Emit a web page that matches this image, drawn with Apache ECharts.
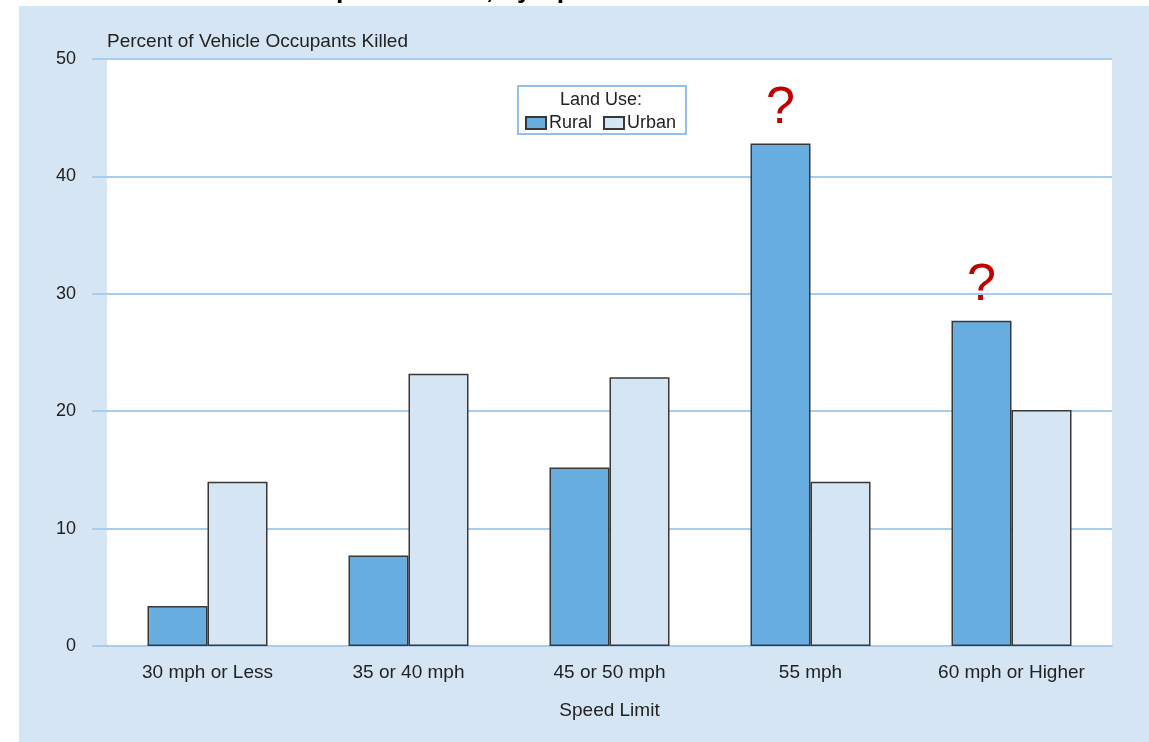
<!DOCTYPE html>
<html>
<head>
<meta charset="utf-8">
<script src="https://cdn.jsdelivr.net/npm/echarts@6/dist/echarts.min.js"></script>
<style>
html,body{margin:0;padding:0;background:#fff;}
#c{width:1149px;height:742px;}
</style>
</head>
<body>
<div id="c"></div>
<script>
var categories = ['30 mph or Less', '35 or 40 mph', '45 or 50 mph', '55 mph', '60 mph or Higher'];
var rural = [3.4, 7.7, 15.2, 42.8, 27.7];
var urban = [14.0, 23.2, 22.9, 14.0, 20.1];
var ruralQuestioned = [false, false, false, true, true];
var yTicks = [0, 10, 20, 30, 40, 50];

var FONT = '"Liberation Sans", Arial, sans-serif';
var chart = echarts.init(document.getElementById('c'), null, {renderer: 'canvas'});

var ruralData = rural.map(function (v, i) {
  if (!ruralQuestioned[i]) return v;
  return {
    value: v,
    label: {
      show: true, position: 'top', distance: 9, formatter: '?',
      color: '#c00000', fontSize: 52, fontFamily: FONT
    }
  };
});

var option = {
  backgroundColor: '#ffffff',
  animation: false,
  graphic: [
    {type: 'rect', z: -10, shape: {x: 19, y: 6, width: 1130, height: 736}, style: {fill: '#d6e5f4'}},
    {type: 'text', z: 10, style: {x: 34, y: 4, text: 'Percent of Vehicle Occupants Killed, by Speed Limit and Land Use',
      font: 'bold 26.5px ' + FONT, fill: '#000', textVerticalAlign: 'bottom', textAlign: 'left'}},
    {type: 'rect', z: 50, shape: {x: 518, y: 86, width: 168, height: 48}, style: {fill: '#ffffff', stroke: '#8fc1ea', lineWidth: 2}},
    {type: 'text', z: 51, style: {x: 601, y: 100, text: 'Land Use:', font: '18px ' + FONT, fill: '#222',
      textAlign: 'center', textVerticalAlign: 'middle'}}
  ],
  legend: {
    z: 60,
    left: 525, top: 114, padding: 0,
    itemWidth: 20, itemHeight: 12, itemGap: 11,
    icon: 'rect',
    textStyle: {fontSize: 18, fontFamily: FONT, color: '#222', padding: [0, 0, 0, -2]},
    data: ['Rural', 'Urban']
  },
  grid: {
    left: 107, right: 37, top: 59, bottom: 96,
    show: true, backgroundColor: '#ffffff', borderWidth: 0
  },
  xAxis: {
    type: 'category',
    data: categories,
    name: 'Speed Limit',
    nameLocation: 'middle',
    nameGap: 55,
    nameTextStyle: {fontSize: 19, fontFamily: FONT, color: '#222'},
    axisLine: {show: true, lineStyle: {color: '#a9cdec', width: 2}},
    axisTick: {show: false},
    axisLabel: {fontSize: 19, fontFamily: FONT, color: '#222', margin: 17}
  },
  yAxis: {
    type: 'value',
    min: 0, max: 50, interval: 10,
    name: 'Percent of Vehicle Occupants Killed',
    nameLocation: 'end',
    nameGap: 8,
    nameTextStyle: {fontSize: 19, fontFamily: FONT, color: '#222', align: 'left'},
    axisLine: {show: false},
    axisTick: {show: true, length: 15, lineStyle: {color: '#a9cdec', width: 2}},
    splitLine: {show: true, lineStyle: {color: '#a9cdec', width: 2}},
    axisLabel: {
      fontSize: 18, fontFamily: FONT, color: '#222', margin: 31,
      formatter: function (v) { return yTicks.indexOf(v) >= 0 ? String(v) : ''; }
    }
  },
  series: [
    {
      name: 'Rural', type: 'bar', data: ruralData,
      barWidth: 60, barGap: '0%',
      itemStyle: {color: '#68ade0', borderColor: '#383838', borderWidth: 1.5}
    },
    {
      name: 'Urban', type: 'bar', data: urban,
      barWidth: 60, barGap: '0%',
      itemStyle: {color: '#d6e5f4', borderColor: '#383838', borderWidth: 1.5}
    }
  ]
};
chart.setOption(option);
</script>
</body>
</html>
